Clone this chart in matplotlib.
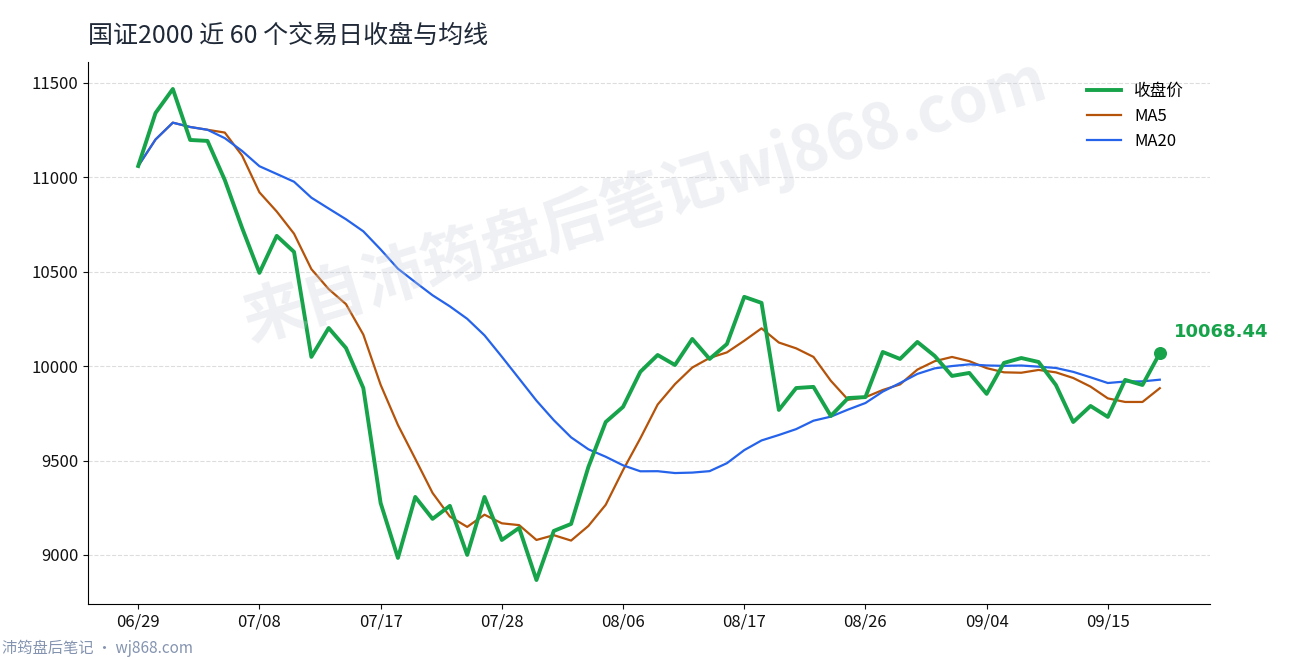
import matplotlib
matplotlib.use("Agg")
import matplotlib.pyplot as plt
import pandas as pd
import numpy as np

plt.rcParams['font.family'] = ['Noto Sans CJK SC', 'DejaVu Sans']

close = [11060, 11341, 11468, 11198, 11193, 10986, 10732, 10494, 10690, 10605,
         10049, 10202, 10096, 9884, 9275, 8984, 9307, 9191, 9260, 9000,
         9307, 9079, 9143, 8867, 9127, 9164, 9466, 9704, 9784, 9970,
         10059, 10006, 10144, 10038, 10117, 10367, 10335, 9768, 9884, 9890,
         9736, 9831, 9836, 10075, 10038, 10128, 10054, 9948, 9964, 9853,
         10017, 10043, 10022, 9900, 9704, 9789, 9731, 9927, 9900, 10068.44]
tick_labels = ['06/29', '07/08', '07/17', '07/28', '08/06', '08/17', '08/26', '09/04', '09/15']
tick_pos = [0, 7, 14, 21, 28, 35, 42, 49, 56]

s = pd.Series(close)
ma5 = s.rolling(5, min_periods=1).mean()
ma20 = s.rolling(20, min_periods=1).mean()
x = np.arange(len(close))

fig = plt.figure(figsize=(12.9, 6.6), dpi=100)
ax = fig.add_axes([88/1290, 56/660, (1210-88)/1290, (604-62)/660])
ax.plot(x, close, color='#16a34a', lw=2.8, label='收盘价', zorder=4)
ax.plot(x, ma5, color='#b45309', lw=1.6, label='MA5', zorder=3)
ax.plot(x, ma20, color='#2563eb', lw=1.6, label='MA20', zorder=3)
ax.scatter([x[-1]], [close[-1]], s=70, color='#16a34a', zorder=5)
ax.annotate(f'{close[-1]:.2f}', (x[-1], close[-1]), xytext=(10, 12), textcoords='offset points',
            color='#16a34a', fontsize=13, fontweight='bold', family=['DejaVu Sans'])
ax.set_xlim(-2.9, 61.9)
ax.set_ylim(8740, 11611)
ax.set_yticks([9000, 9500, 10000, 10500, 11000, 11500])
ax.set_xticks(tick_pos)
ax.set_xticklabels(tick_labels)
ax.tick_params(labelsize=12, colors='#111111')
ax.grid(axis='y', ls='--', color='#dddddd', lw=0.8)
for sp in ['top', 'right']:
    ax.spines[sp].set_visible(False)
ax.legend(loc='upper right', frameon=False, fontsize=12, bbox_to_anchor=(0.99, 0.99))
fig.text(88/1290, 1-36/660, '国证2000 近 60 个交易日收盘与均线', fontsize=18, color='#1f2937', va='center')
fig.text(645/1290, 1-200/660, '来自沛筠盘后笔记wj868.com', fontsize=45, color='#c8cdd8', alpha=0.3,
         rotation=17, ha='center', va='center', fontweight='bold', zorder=0)
fig.text(2/1290, 1-648/660, '沛筠盘后笔记 · wj868.com', fontsize=11, color='#8494b0', va='center')
fig.savefig('out.png', dpi=100)
